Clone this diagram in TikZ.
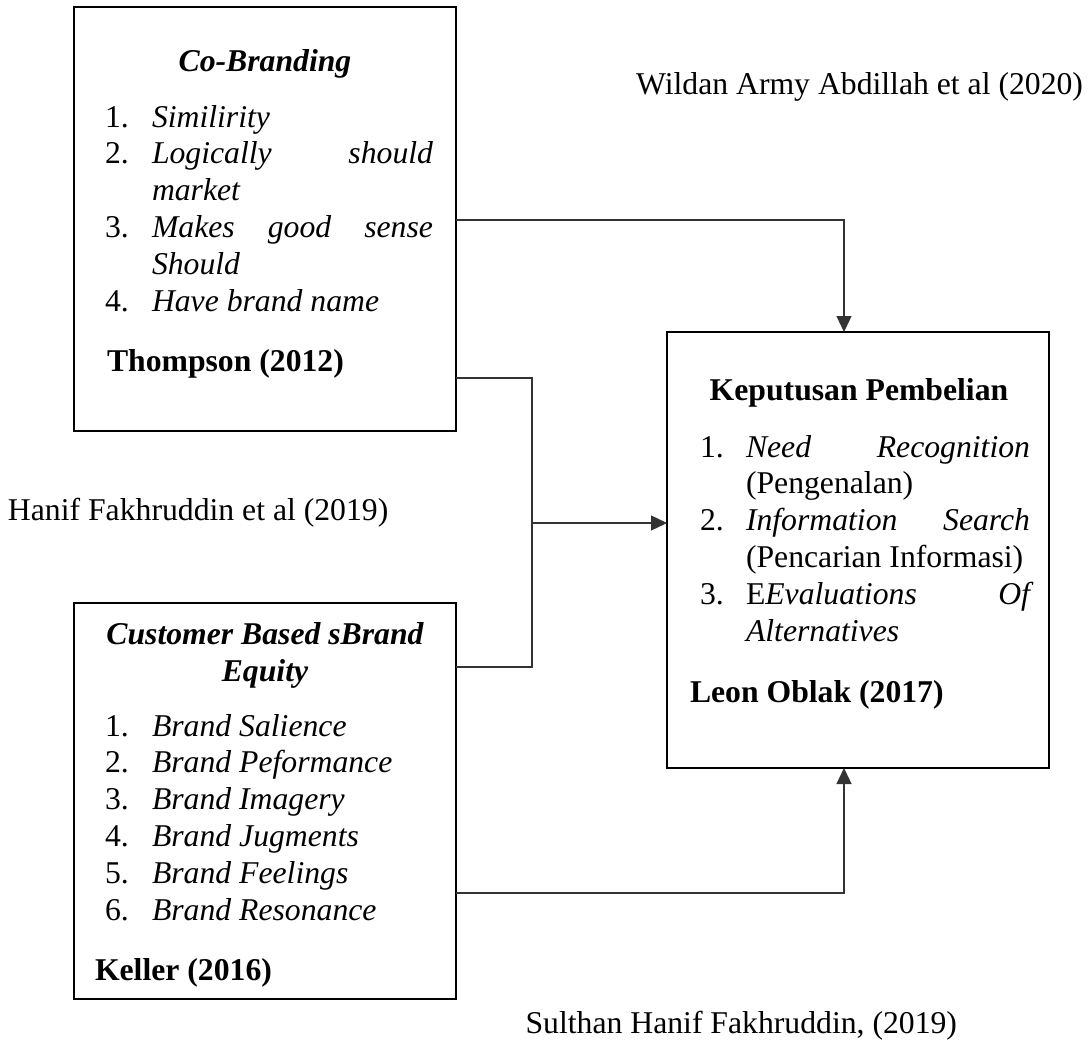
\documentclass[tikz,border=0pt]{standalone}
\usepackage{fontspec}
\setmainfont{Liberation Serif}
\usetikzlibrary{arrows.meta}
\newcommand{\mylist}[2]{\parbox[t]{#1}{\fontsize{31.7}{36.8}\selectfont\spaceskip=0.25em plus 3em minus 0.05em \xspaceskip=\spaceskip \hyphenpenalty=10000 \exhyphenpenalty=10000 \tolerance=9999 \parindent=0pt \parskip=0pt #2}}
\newcommand{\numitem}[3]{\noindent\llap{\makebox[#1][l]{#2}}#3\par}
\begin{document}
\begin{tikzpicture}[x=1pt,y=1pt,
  every node/.style={inner sep=0pt, outer sep=0pt, font=\fontsize{31.7}{36.8}\selectfont},
  box/.style={draw, line width=2.6pt, rectangle, minimum width=382pt},
  conn/.style={draw=black!80, line width=1.3pt},
  arr/.style={conn, -{Triangle[length=16pt,width=15pt]}},
  txt/.style={anchor=base west},
  ]
\useasboundingbox (0,0) rectangle (1092,-1049);
% boxes
\node[box, minimum height=424pt] (b1) at (265,-219) {};
\node[box, minimum height=396pt] (b2) at (265,-801) {};
\node[box, minimum height=436pt] (b3) at (858,-550) {};
% box 1 content
\node[anchor=base] (t1) at (265,-71) {\bfseries\itshape Co-Branding};
\node[txt] (l1) at (152,-127) {\mylist{281pt}{%
\numitem{47pt}{1.}{\textit{Similirity}}%
\numitem{47pt}{2.}{\textit{Logically should market}}%
\numitem{47pt}{3.}{\textit{Makes good sense Should}}%
\numitem{47pt}{4.}{\textit{Have brand name}}}};
\node[txt] (a1) at (107,-371) {\bfseries Thompson (2012)};
% box 2 content
\node[anchor=base] (t2a) at (265,-644) {\bfseries\itshape Customer Based sBrand};
\node[anchor=base] (t2b) at (265,-681) {\bfseries\itshape Equity};
\node[txt] (l2) at (152,-736) {\mylist{290pt}{%
\numitem{47pt}{1.}{\textit{Brand Salience}}%
\numitem{47pt}{2.}{\textit{Brand Peformance}}%
\numitem{47pt}{3.}{\textit{Brand Imagery}}%
\numitem{47pt}{4.}{\textit{Brand Jugments}}%
\numitem{47pt}{5.}{\textit{Brand Feelings}}%
\numitem{47pt}{6.}{\textit{Brand Resonance}}}};
\node[txt] (a2) at (95,-980) {\bfseries Keller (2016)};
% box 3 content
\node[anchor=base] (t3) at (859,-400) {\bfseries Keputusan Pembelian};
\node[txt] (l3) at (746,-457) {\mylist{284pt}{%
\numitem{46pt}{1.}{\textit{Need Recognition} (Pengenalan)}%
\numitem{46pt}{2.}{\textit{Information Search} (Pencarian Informasi)}%
\numitem{46pt}{3.}{E\textit{Evaluations Of Alternatives}}}};
\node[txt] (a3) at (690,-702) {\bfseries Leon Oblak (2017)};
% free labels
\node[anchor=base east] (w) at (1083,-95) {Wildan Army Abdillah et al (2020)};
\node[anchor=base west] (h) at (8,-520) {Hanif Fakhruddin et al (2019)};
\node[anchor=base east] (s) at (957,-1033) {Sulthan Hanif Fakhruddin, (2019)};
% helper coordinates
\coordinate (ya) at (0,-220);
\coordinate (yb) at (0,-378);
\coordinate (yc) at (0,-667);
\coordinate (yd) at (0,-893);
\coordinate (ye) at (0,-523);
\coordinate (xj) at (532,0);
\coordinate (xa) at (844,0);
% connectors
\draw[arr] (b1.east |- ya) -| (b3.north -| xa);
\draw[conn] (b1.east |- yb) -- (xj |- yb) -- (xj |- yc) -- (b2.east |- yc);
\draw[arr] (xj |- ye) -- (b3.west |- ye);
\draw[arr] (b2.east |- yd) -| (b3.south -| xa);
\end{tikzpicture}
\end{document}
